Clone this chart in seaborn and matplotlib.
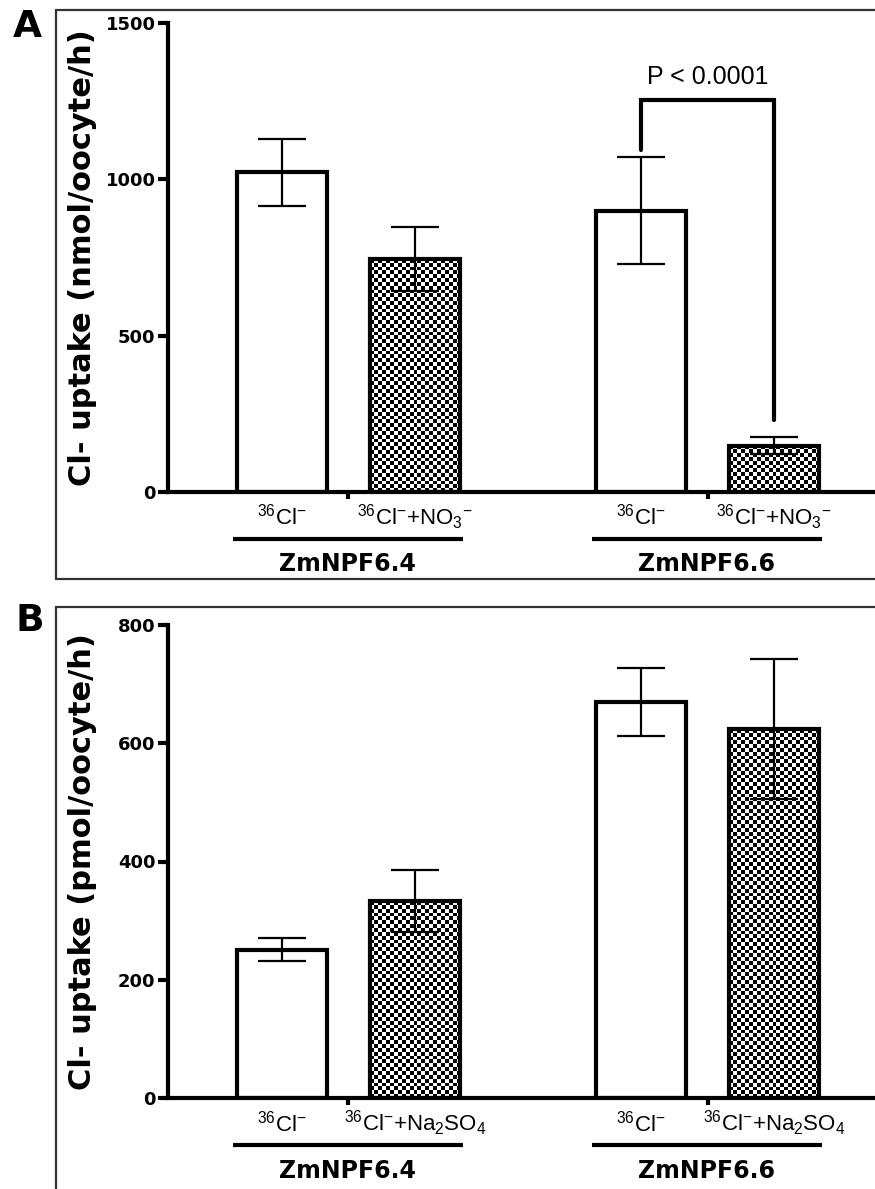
import numpy as np
import pandas as pd
import matplotlib
matplotlib.use("Agg")
import matplotlib.pyplot as plt
from matplotlib.lines import Line2D
import seaborn as sns

# data (mean +/- error)
groups = ["ZmNPF6.4", "ZmNPF6.6"]
bar_pos = [1.0, 2.0, 3.7, 4.7]
a_labels = [r"$^{36}$Cl$^{-}$", r"$^{36}$Cl$^{-}$+NO$_{3}$$^{-}$"] * 2
a_mean = [1022, 744, 900, 148]
a_err = [107, 102, 170, 27]
b_labels = [r"$^{36}$Cl$^{-}$", r"$^{36}$Cl$^{-}$+Na$_{2}$SO$_{4}$"] * 2
b_mean = [251, 333, 670, 624]
b_err = [20, 53, 58, 119]
treated = [False, True, False, True]

sns.set_style("ticks")
plt.rcParams["font.family"] = ["DejaVu Sans"]
plt.rcParams["mathtext.default"] = "regular"
for k in ["text.color", "axes.edgecolor", "axes.labelcolor", "xtick.color", "ytick.color"]:
    plt.rcParams[k] = "black"
narrow = ["Liberation Sans Narrow", "Liberation Sans", "DejaVu Sans"]

fig = plt.figure(figsize=(8.75, 11.89), dpi=100)
W, H = 875, 1189


def px_axes(left, top, right, bottom):
    return fig.add_axes([left / W, 1 - bottom / H, (right - left) / W, (bottom - top) / H])


def checker(ax, patch):
    # fill a bar with a checkerboard, clipped to the bar outline
    x0, w, h = patch.get_x(), patch.get_width(), patch.get_height()
    p0 = ax.transData.transform((x0, 0))
    p1 = ax.transData.transform((x0 + w, h))
    nx = max(int(abs(p1[0] - p0[0]) / 3.8), 1)
    ny = max(int(abs(p1[1] - p0[1]) / 3.8), 1)
    yy, xx = np.mgrid[0:ny, 0:nx]
    img = ((xx + yy) % 2).astype(float)
    im = ax.imshow(img, extent=(x0, x0 + w, 0, h), cmap="gray", vmin=0, vmax=1,
                   interpolation="nearest", aspect="auto", zorder=0.5)
    im.set_clip_path(patch)


def panel(ax, means, errs, labels, ylim, yticks, ylabel):
    df = pd.DataFrame({"pos": bar_pos, "uptake": means, "treated": treated})
    sns.barplot(data=df, x="pos", y="uptake", native_scale=True, width=0.68,
                color="white", edgecolor="black", linewidth=3, errorbar=None,
                saturation=1, ax=ax)
    ax.set_xlim(0.143, 5.459)
    ax.set_ylim(*ylim)
    for p in ax.patches:
        p.set_zorder(1)
        cx = p.get_x() + p.get_width() / 2
        i = int(np.argmin([abs(cx - b) for b in bar_pos]))
        if treated[i]:
            p.set_facecolor("none")
            checker(ax, p)
    ax.errorbar(bar_pos, means, yerr=errs, fmt="none", ecolor="black",
                elinewidth=1.6, capsize=17, capthick=1.6, zorder=3)
    ax.set_xlim(0.143, 5.459)
    ax.set_ylim(*ylim)

    sns.despine(ax=ax)
    ax.spines["left"].set_linewidth(3)
    ax.spines["bottom"].set_linewidth(3)
    ax.set_yticks(yticks)
    ax.set_yticklabels([str(t) for t in yticks], fontweight="bold", fontsize=13)
    ax.tick_params(axis="y", direction="out", length=7, width=3, pad=2)
    centers = [(bar_pos[0] + bar_pos[1]) / 2, (bar_pos[2] + bar_pos[3]) / 2]
    ax.set_xticks(centers)
    ax.set_xticklabels(["", ""])
    ax.tick_params(axis="x", direction="out", length=5, width=3)
    ax.set_xlabel("")
    ax.set_ylabel(ylabel, fontsize=22, fontweight="bold")
    ax.yaxis.set_label_coords(-0.1, 0.5)

    trans = ax.get_xaxis_transform()
    for x, lab in zip(bar_pos, labels):
        ax.text(x, -0.053, lab, transform=trans, ha="center", va="center",
                fontsize=16, family=narrow, clip_on=False)
    for k, g in enumerate(groups):
        xa, xb = bar_pos[2 * k] - 0.37, bar_pos[2 * k + 1] + 0.36
        ax.plot([xa, xb], [-0.1, -0.1], transform=trans, color="black",
                lw=3, clip_on=False, solid_capstyle="butt")
        ax.text((xa + xb) / 2, -0.154, g, transform=trans, ha="center",
                va="center", fontsize=17, fontweight="bold", clip_on=False)


axA = px_axes(168, 23, 875, 492)
panel(axA, a_mean, a_err, a_labels, (0, 1500), [0, 500, 1000, 1500],
      "Cl- uptake (nmol/oocyte/h)")

# significance bracket between the two ZmNPF6.6 bars
top = 1253
xl, xr = bar_pos[2], bar_pos[3]
axA.plot([xl, xl, xr, xr],
         [a_mean[2] + a_err[2] + 25, top, top, a_mean[3] + a_err[3] + 55],
         color="black", lw=3, zorder=4, solid_joinstyle="miter")
axA.text((xl + xr) / 2, top + 75, "P < 0.0001", ha="center", va="center",
         fontsize=18, family=narrow[1:])

axB = px_axes(168, 625, 875, 1098)
panel(axB, b_mean, b_err, b_labels, (0, 800), [0, 200, 400, 600, 800],
      "Cl- uptake (pmol/oocyte/h)")

# panel frames and letters
box = dict(color="#333333", lw=1.6, transform=fig.transFigure)
fig.add_artist(Line2D([56 / W, 56 / W], [1 - 10 / H, 1 - 579 / H], **box))
fig.add_artist(Line2D([56 / W, 1], [1 - 10 / H, 1 - 10 / H], **box))
fig.add_artist(Line2D([56 / W, 1], [1 - 579 / H, 1 - 579 / H], **box))
fig.add_artist(Line2D([56 / W, 56 / W], [1 - 607 / H, 0], **box))
fig.add_artist(Line2D([56 / W, 1], [1 - 607 / H, 1 - 607 / H], **box))
fig.text(27 / W, 1 - 27 / H, "A", fontsize=27, fontweight="bold", ha="center", va="center")
fig.text(30 / W, 1 - 621 / H, "B", fontsize=27, fontweight="bold", ha="center", va="center")

fig.savefig("out.png", dpi=100)
